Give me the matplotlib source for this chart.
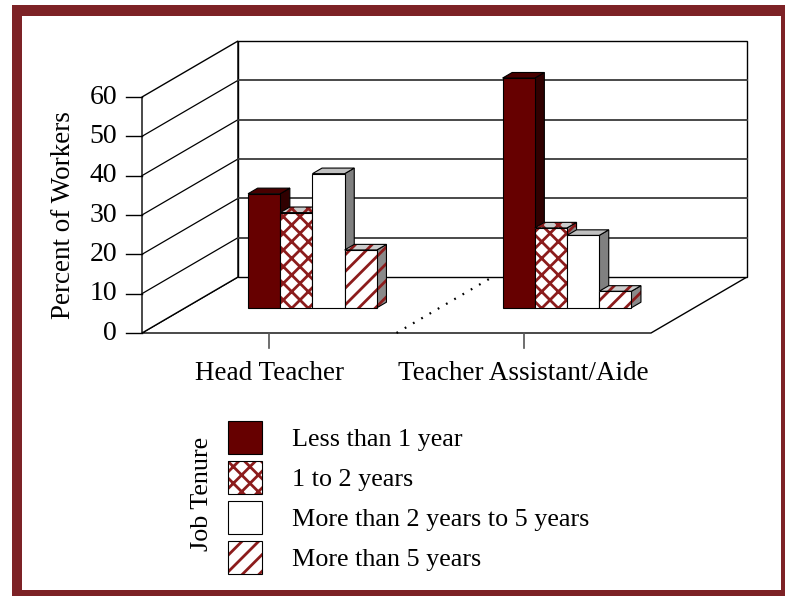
import matplotlib
matplotlib.use('Agg')
import matplotlib.pyplot as plt
from matplotlib.patches import Polygon, Rectangle, Patch

categories = ["Head Teacher", "Teacher Assistant/Aide"]
tenure_labels = ["Less than 1 year", "1 to 2 years",
                 "More than 2 years to 5 years", "More than 5 years"]
head_teacher = [29.0, 24.2, 34.1, 14.7]
teacher_aide = [58.4, 20.3, 18.4, 4.2]
y_ticks = [0, 10, 20, 30, 40, 50, 60]

MAROON = '#660000'
HATCH_RED = '#8c1c1c'
FRAME = '#7d2226'
# front face, right side, top, hatch for each tenure series
styles = [
    dict(face=MAROON, side='#300000', top='#480000', hatch=None),
    dict(face='white', side='#8a8a8a', top='#cccccc', hatch='xx'),
    dict(face='white', side='#808080', top='#c0c0c0', hatch=None),
    dict(face='white', side='#8a8a8a', top='#cccccc', hatch='//'),
]

plt.rcParams['font.family'] = ['Liberation Serif', 'DejaVu Serif']
plt.rcParams['hatch.linewidth'] = 2.0

W_PX, H_PX = 785, 596
fig = plt.figure(figsize=(W_PX / 100, H_PX / 100), dpi=100)

# dark red frame round the picture
fig.add_artist(Rectangle((12 / W_PX, 0), 1, 1 - 5 / H_PX, transform=fig.transFigure,
                         facecolor=FRAME, edgecolor='none', zorder=-20))
fig.add_artist(Rectangle((22 / W_PX, 6 / H_PX), (781 - 22) / W_PX, (590 - 16) / H_PX,
                         transform=fig.transFigure, facecolor='white',
                         edgecolor='none', zorder=-19))

ax = fig.add_axes([0, 0, 1, 1])
ax.set_facecolor('none')
# pixel anchors: category -0.5 -> x 142, 1.5 -> x 651; value 0 -> y 333, 60 -> y 97
sx = 2.0 / (651 - 142)
sy = 60.0 / (333 - 97)
ax.set_xlim(-0.5 - 142 * sx, -0.5 + (W_PX - 142) * sx)
ax.set_ylim(-(H_PX - 333) * sy, 333 * sy)
ax.axis('off')

DX = 96 * sx
DY = 56 * sy


def proj(x, y, d):
    return (x + d * DX, y + d * DY)


x0, x1, ytop = -0.5, 1.5, y_ticks[-1]
wall_kw = dict(facecolor='white', edgecolor='black', lw=1.0, zorder=1)
ax.add_patch(Polygon([proj(x0, 0, 0), proj(x1, 0, 0), proj(x1, 0, 1), proj(x0, 0, 1)], **wall_kw))
ax.add_patch(Polygon([proj(x0, 0, 0), proj(x0, 0, 1), proj(x0, ytop, 1), proj(x0, ytop, 0)], **wall_kw))
ax.add_patch(Polygon([proj(x0, 0, 1), proj(x1, 0, 1), proj(x1, ytop, 1), proj(x0, ytop, 1)], **wall_kw))
for v in y_ticks[1:-1]:
    a, b, c = proj(x0, v, 0), proj(x0, v, 1), proj(x1, v, 1)
    ax.plot([a[0], b[0]], [a[1], b[1]], color='black', lw=0.9, zorder=2)
    ax.plot([b[0], c[0]], [b[1], c[1]], color='#3a3a3a', lw=1.3, zorder=2)

# dotted divider on the floor between categories
a, b = proj(0.5, 0, 0), proj(0.5, 0, 1)
ax.plot([a[0], b[0]], [a[1], b[1]], color='black', lw=1.6, ls=(0, (0.8, 3.5)), zorder=2)

# value axis ticks and labels
for v in y_ticks:
    ax.plot([x0 - 16 * sx, x0], [v, v], color='black', lw=1.0, zorder=2)
    ax.text(x0 - 25 * sx, v, str(v), ha='right', va='center', fontsize=20)

# category ticks and labels
for ci, name in enumerate(categories):
    ax.plot([ci, ci], [0, -15 * sy], color='#555555', lw=1.2, zorder=2)
    ax.text(ci, -40 * sy, name, ha='center', va='center', fontsize=19.5)

# 3-d bars
d0, d1 = 0.45, 0.55
bw = 32.2 * sx
ddx, ddy = (d1 - d0) * DX, (d1 - d0) * DY
z = 3
for ci, vals in enumerate([head_teacher, teacher_aide]):
    for k, v in enumerate(vals):
        st = styles[k]
        left = ci + (k - 2) * bw + d0 * DX
        base = d0 * DY
        side = [(left + bw, base), (left + bw + ddx, base + ddy),
                (left + bw + ddx, base + v + ddy), (left + bw, base + v)]
        top = [(left, base + v), (left + bw, base + v),
               (left + bw + ddx, base + v + ddy), (left + ddx, base + v + ddy)]
        for pts, col in [(side, st['side']), (top, st['top'])]:
            if st['hatch']:
                ax.add_patch(Polygon(pts, facecolor=col, edgecolor=HATCH_RED,
                                     hatch=st['hatch'], lw=0, zorder=z))
                ax.add_patch(Polygon(pts, fill=False, edgecolor='black', lw=0.8, zorder=z))
            else:
                ax.add_patch(Polygon(pts, facecolor=col, edgecolor='black', lw=0.8, zorder=z))
        if st['hatch']:
            ax.bar(left, v, width=bw, bottom=base, align='edge', color=st['face'],
                   edgecolor=HATCH_RED, hatch=st['hatch'], lw=0, zorder=z)
            ax.bar(left, v, width=bw, bottom=base, align='edge', fill=False,
                   edgecolor='black', lw=0.8, zorder=z)
        else:
            ax.bar(left, v, width=bw, bottom=base, align='edge', color=st['face'],
                   edgecolor='black', lw=0.8, zorder=z)
        z += 0.01

ax.text(x0 - 78 * sx, 30, 'Percent of Workers', rotation=90,
        ha='center', va='center', fontsize=19.5)

# legend
handles = []
for st in styles:
    if st['hatch']:
        handles.append((Patch(facecolor='white', edgecolor=HATCH_RED, hatch=st['hatch'], lw=0),
                        Patch(facecolor='none', edgecolor='black', lw=0.8)))
    else:
        handles.append(Patch(facecolor=st['face'], edgecolor='black', lw=0.8))
fs = 18.8
fs_px = fs * 100 / 72
hh = (33 / fs_px - 0.245) / 0.65
fig.legend(handles, tenure_labels, loc='upper left',
           bbox_to_anchor=(228 / W_PX, 1 - 421 / H_PX), frameon=False,
           borderpad=0, borderaxespad=0, fontsize=fs,
           handlelength=34 / fs_px, handleheight=hh,
           handletextpad=30 / fs_px, labelspacing=7 / fs_px)
fig.text(202 / W_PX, 1 - 494 / H_PX, 'Job Tenure', rotation=90,
         ha='center', va='center', fontsize=18.8)

fig.savefig('out.png', dpi=100)
